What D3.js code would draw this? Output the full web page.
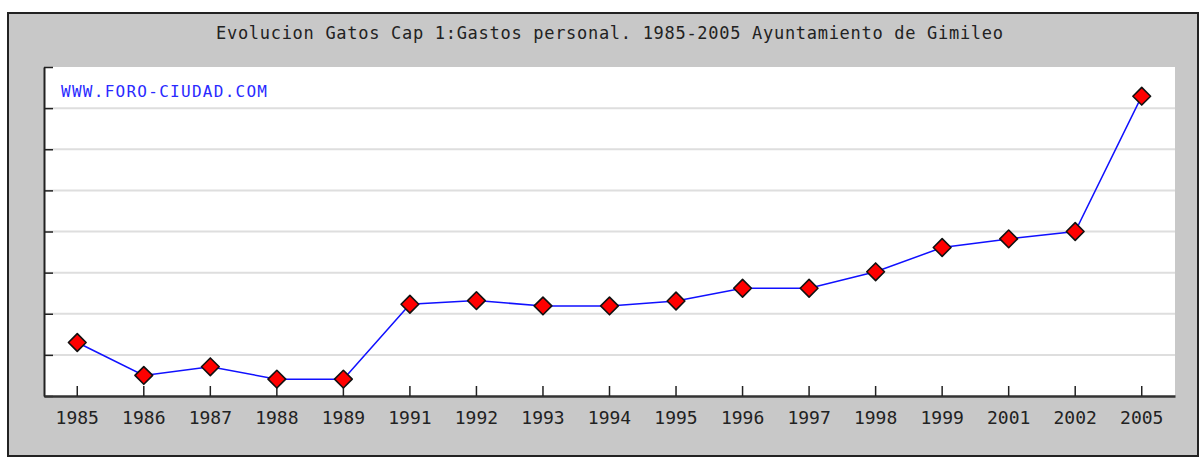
<!DOCTYPE html>
<html lang="en">
<head>
    <meta charset="UTF-8">
    <title>Evolucion Gatos Cap 1</title>
    <style>
        body { margin: 0; background: #fff; }
        .tick text { font-family: "DejaVu Sans Mono", monospace; font-size: 18px; fill: #222; }
    </style>
    <script src="https://d3js.org/d3.v7.min.js"></script>
</head>
<body>
    <script>
        // data (no y labels shown, so arbitrary units: 8 grid steps)
        const years = ["1985", "1986", "1987", "1988", "1989", "1991", "1992", "1993", "1994",
                       "1995", "1996", "1997", "1998", "1999", "2001", "2002", "2005"];
        const gastos = [1.30, 0.50, 0.71, 0.41, 0.41, 2.23, 2.32, 2.19, 2.19,
                        2.31, 2.62, 2.62, 3.02, 3.61, 3.82, 4.00, 7.29];
        const yTicks = [0, 1, 2, 3, 4, 5, 6, 7, 8];
        const title = "Evolucion Gatos Cap 1:Gastos personal. 1985-2005 Ayuntamiento de Gimileo";
        const watermark = "WWW.FORO-CIUDAD.COM";

        const W = 1201, H = 458;
        const plot = {left: 44, right: 1175, top: 67, bottom: 396};

        let svg = d3.select("body")
            .append("svg")
            .attr("width", W)
            .attr("height", H)
            .style("display", "block");

        // outer gray frame
        svg.append("rect")
            .attr("x", 8).attr("y", 13)
            .attr("width", 1190).attr("height", 443)
            .attr("fill", "#c8c8c8")
            .attr("stroke", "#222")
            .attr("stroke-width", 2);

        svg.append("text")
            .attr("x", 216).attr("y", 39)
            .attr("textLength", 787)
            .attr("lengthAdjust", "spacing")
            .style("font-family", "DejaVu Sans Mono, monospace")
            .style("font-size", "17px")
            .style("fill", "#222")
            .text(title);

        // plot area
        svg.append("rect")
            .attr("x", plot.left).attr("y", plot.top)
            .attr("width", plot.right - plot.left)
            .attr("height", plot.bottom - plot.top)
            .attr("fill", "#fff");

        let x = d3.scaleBand().domain(years).range([plot.left, plot.right]).padding(0);
        let y = d3.scaleLinear().domain([0, 8]).range([plot.bottom, plot.top]);
        let cx = d => x(d) + x.bandwidth() / 2;

        // grid
        svg.append("g")
            .selectAll("line")
            .data(yTicks.slice(1, -1))
            .join("line")
            .attr("x1", plot.left).attr("x2", plot.right)
            .attr("y1", d => y(d)).attr("y2", d => y(d))
            .attr("stroke", "#dedede")
            .attr("stroke-width", 2);

        svg.append("text")
            .attr("x", 61).attr("y", 97)
            .attr("textLength", 206)
            .attr("lengthAdjust", "spacing")
            .style("font-family", "DejaVu Sans Mono, monospace")
            .style("font-size", "16px")
            .style("fill", "#2a2aff")
            .text(watermark);

        // y axis, ticks inward, no labels
        let yAxis = svg.append("g")
            .attr("transform", "translate(" + plot.left + ",0)")
            .call(d3.axisRight(y).tickValues(yTicks).tickSize(9).tickSizeOuter(0).tickFormat(""));
        yAxis.selectAll("line").attr("stroke", "#222").attr("stroke-width", 1.5);
        yAxis.select(".domain").attr("stroke", "#222").attr("stroke-width", 2);

        // x axis, ticks pointing up
        let xAxis = svg.append("g")
            .attr("transform", "translate(0," + plot.bottom + ")")
            .call(d3.axisBottom(x).tickSize(-10).tickSizeOuter(0).tickPadding(15));
        xAxis.selectAll(".tick line").attr("stroke", "#222").attr("stroke-width", 1.5);
        xAxis.select(".domain").attr("stroke", "#333").attr("stroke-width", 2.5);

        let pts = years.map((yr, i) => [cx(yr), y(gastos[i])]);

        svg.append("path")
            .datum(pts)
            .attr("fill", "none")
            .attr("stroke", "#1010ff")
            .attr("stroke-width", 1.5)
            .attr("d", d3.line());

        svg.append("g")
            .selectAll("path")
            .data(pts)
            .join("path")
            .attr("transform", d => "translate(" + d[0] + "," + d[1] + ")")
            .attr("d", d3.symbol(d3.symbolDiamond2, 200))
            .attr("fill", "#ff0000")
            .attr("stroke", "#111")
            .attr("stroke-width", 1.6)
            .attr("stroke-linejoin", "round");
    </script>
</body>
</html>
